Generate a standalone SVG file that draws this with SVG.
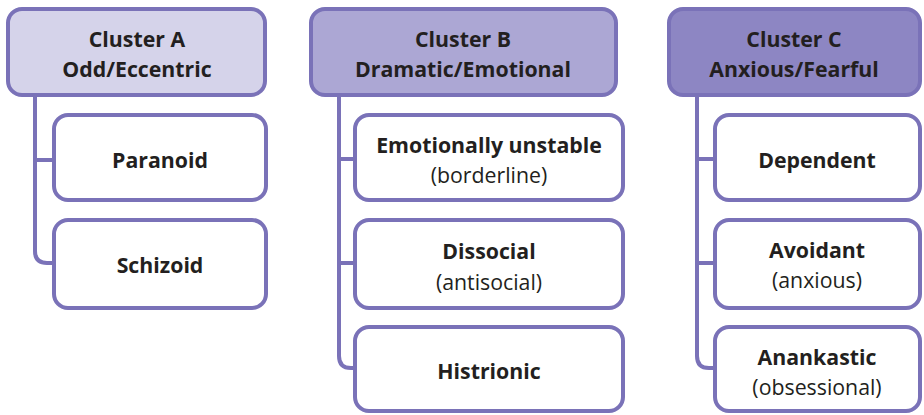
<svg xmlns="http://www.w3.org/2000/svg" width="924" height="415" viewBox="0 0 924 415">
<style>
  .box { stroke:#7a72b8; stroke-width:4; fill:#ffffff; }
  .ha { fill:#d5d3ea; }
  .hb { fill:#aca7d4; }
  .hc { fill:#8d86c3; }
  .conn { fill:none; stroke:#7a72b8; stroke-width:4; }
  text { font-family:"Open Sans","Noto Sans",sans-serif; fill:#231f20; text-anchor:middle; font-size:21.3px; }
  .b { font-weight:bold; }
</style>
<rect width="924" height="415" fill="#ffffff"/>
<g id="connectors">
  <path class="conn" d="M35 95 V251 Q35 263 47 263 H54 M35 160 H54"/>
  <path class="conn" d="M339 95 V356 Q339 368 351 368 H355 M339 159 H355 M339 263 H355"/>
  <path class="conn" d="M697 95 V356 Q697 368 709 368 H715 M697 159 H715 M697 263 H715"/>
</g>
<g id="clusterA">
  <rect class="box ha" x="8" y="9" width="257" height="86" rx="14"/>
  <text class="b" x="137" y="47">Cluster A</text>
  <text class="b" x="137" y="77">Odd/Eccentric</text>
</g>
<g id="paranoid">
  <rect class="box" x="54" y="115" width="212" height="85" rx="14"/>
  <text class="b" x="160" y="168">Paranoid</text>
</g>
<g id="schizoid">
  <rect class="box" x="54" y="220" width="212" height="88" rx="14"/>
  <text class="b" x="160" y="273">Schizoid</text>
</g>
<g id="clusterB">
  <rect class="box hb" x="311" y="9" width="305" height="86" rx="14"/>
  <text class="b" x="463" y="47">Cluster B</text>
  <text class="b" x="463" y="77">Dramatic/Emotional</text>
</g>
<g id="emotionally-unstable">
  <rect class="box" x="355" y="115" width="268" height="85" rx="14"/>
  <text class="b" x="489" y="153">Emotionally unstable</text>
  <text x="489" y="183">(borderline)</text>
</g>
<g id="dissocial">
  <rect class="box" x="355" y="220" width="268" height="88" rx="14"/>
  <text class="b" x="489" y="259">Dissocial</text>
  <text x="489" y="290">(antisocial)</text>
</g>
<g id="histrionic">
  <rect class="box" x="355" y="327" width="268" height="84" rx="14"/>
  <text class="b" x="489" y="379">Histrionic</text>
</g>
<g id="clusterC">
  <rect class="box hc" x="669" y="9" width="251" height="86" rx="14"/>
  <text class="b" x="794" y="47">Cluster C</text>
  <text class="b" x="794" y="77">Anxious/Fearful</text>
</g>
<g id="dependent">
  <rect class="box" x="715" y="115" width="205" height="85" rx="14"/>
  <text class="b" x="817" y="168">Dependent</text>
</g>
<g id="avoidant">
  <rect class="box" x="715" y="220" width="205" height="88" rx="14"/>
  <text class="b" x="817" y="258">Avoidant</text>
  <text x="817" y="288">(anxious)</text>
</g>
<g id="anankastic">
  <rect class="box" x="715" y="327" width="205" height="84" rx="14"/>
  <text class="b" x="817" y="365">Anankastic</text>
  <text x="817" y="395">(obsessional)</text>
</g>
</svg>
